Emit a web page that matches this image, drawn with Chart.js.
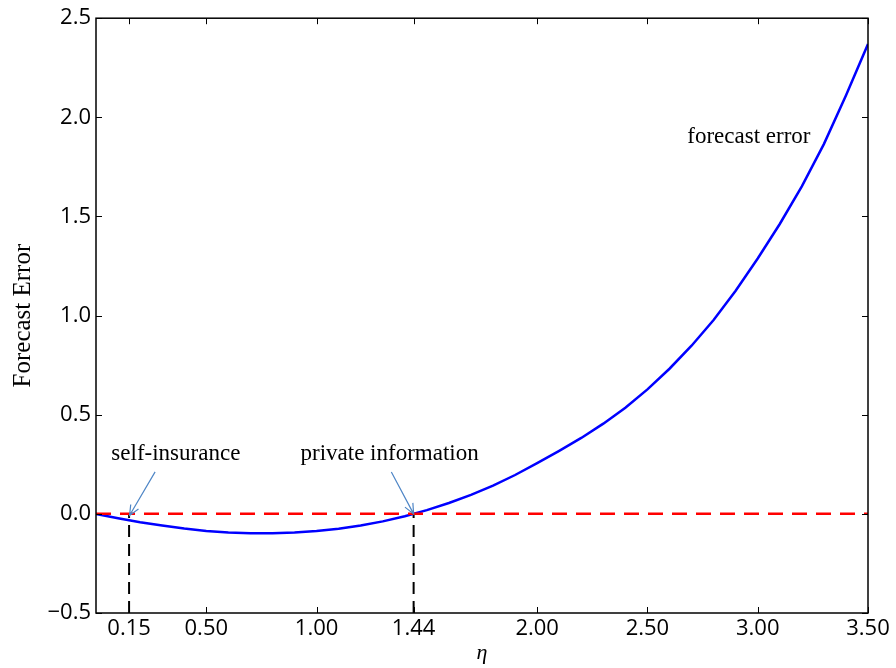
<!DOCTYPE html>
<html>
<head>
<meta charset="utf-8">
<script src="https://cdn.jsdelivr.net/npm/chart.js@4/dist/chart.umd.min.js"></script>
<style>
  html, body { margin: 0; padding: 0; background: #fff; }
  #wrap { width: 896px; height: 668px; }
</style>
</head>
<body>
<div id="wrap"><canvas id="c" width="896" height="668"></canvas></div>
<script>
// eta grid and the forecast error along it
const etaValues = [0.0, 0.1, 0.2, 0.3, 0.4, 0.5, 0.6, 0.7, 0.8, 0.9,
                   1.0, 1.1, 1.2, 1.3, 1.4, 1.5, 1.6, 1.7, 1.8, 1.9,
                   2.0, 2.1, 2.2, 2.3, 2.4, 2.5, 2.6, 2.7, 2.8, 2.9,
                   3.0, 3.1, 3.2, 3.3, 3.4, 3.5];
const errorValues = [0.000, -0.022, -0.042, -0.059, -0.074, -0.086, -0.094, -0.098, -0.098, -0.094,
                     -0.087, -0.075, -0.059, -0.038, -0.012, 0.019, 0.055, 0.096, 0.142, 0.196,
                     0.256, 0.318, 0.383, 0.455, 0.535, 0.628, 0.732, 0.848, 0.978, 1.125,
                     1.288, 1.462, 1.652, 1.865, 2.110, 2.370];

// zero reference line
const zeroLineEta = [0.0, 3.5];
const zeroLineValue = [0.0, 0.0];

// thresholds marked with vertical drop lines
const thresholdEta = [0.15, 1.44];

// axis ticks
const xTickValues = [0.15, 0.50, 1.00, 1.44, 2.00, 2.50, 3.00, 3.50];
const yTickValues = [-0.5, 0.0, 0.5, 1.0, 1.5, 2.0, 2.5];

// annotations: label, text anchor (eta, value), arrow start, arrow tip
const annotationLabels = ['self-insurance', 'private information'];
const annotationTextAt = [[0.362, 0.27], [1.331, 0.27]];
const annotationArrowFrom = [[0.268, 0.212], [1.339, 0.211]];
const annotationArrowTo = [[0.152, -0.008], [1.44, 0.0]];
const curveLabel = 'forecast error';
const curveLabelAt = [2.96, 1.87];

const SERIF = '"Liberation Serif", "DejaVu Serif", serif';
const SANS = '"Open Sans", "DejaVu Sans", sans-serif';

const toPoints = (xs, ys) => xs.map((x, i) => ({ x: x, y: ys[i] }));

const datasets = [
  {
    label: 'zero',
    data: toPoints(zeroLineEta, zeroLineValue),
    showLine: true,
    borderColor: '#ff0000',
    borderWidth: 2.5,
    borderDash: [15, 9],
    pointRadius: 0,
    order: 1
  },
  {
    label: 'forecast error',
    data: toPoints(etaValues, errorValues),
    showLine: true,
    borderColor: '#0000ff',
    borderWidth: 2.5,
    pointRadius: 0,
    tension: 0,
    order: 2
  }
];
thresholdEta.forEach(e => {
  datasets.push({
    label: 'threshold ' + e,
    data: [{ x: e, y: -0.5 }, { x: e, y: 0 }],
    showLine: true,
    borderColor: '#000000',
    borderWidth: 2,
    borderDash: [12, 7],
    pointRadius: 0,
    order: 3
  });
});

// frame, inward ticks on all four sides, and the text annotations
const framePlugin = {
  id: 'frame',
  afterDraw(chart) {
    const { ctx, chartArea: a, scales } = chart;
    const xs = scales.x, ys = scales.y;
    ctx.save();
    ctx.strokeStyle = '#000';
    ctx.lineWidth = 1.5;
    ctx.strokeRect(a.left, a.top, a.right - a.left, a.bottom - a.top);
    ctx.lineWidth = 1;
    const L = 6;
    ctx.beginPath();
    xTickValues.forEach(v => {
      const px = Math.round(xs.getPixelForValue(v)) + 0.5;
      ctx.moveTo(px, a.bottom); ctx.lineTo(px, a.bottom - L);
      ctx.moveTo(px, a.top); ctx.lineTo(px, a.top + L);
    });
    yTickValues.forEach(v => {
      const py = Math.round(ys.getPixelForValue(v)) + 0.5;
      ctx.moveTo(a.left, py); ctx.lineTo(a.left + L, py);
      ctx.moveTo(a.right, py); ctx.lineTo(a.right - L, py);
    });
    ctx.stroke();

    // annotation texts and arrows
    ctx.fillStyle = '#000';
    ctx.font = '23px ' + SERIF;
    ctx.textAlign = 'center';
    ctx.textBaseline = 'alphabetic';
    annotationLabels.forEach((t, i) => {
      const tx = xs.getPixelForValue(annotationTextAt[i][0]);
      const ty = ys.getPixelForValue(annotationTextAt[i][1]);
      ctx.fillText(t, tx, ty);
      const x0 = xs.getPixelForValue(annotationArrowFrom[i][0]);
      const y0 = ys.getPixelForValue(annotationArrowFrom[i][1]);
      const x1 = xs.getPixelForValue(annotationArrowTo[i][0]);
      const y1 = ys.getPixelForValue(annotationArrowTo[i][1]);
      ctx.strokeStyle = '#4f86c6';
      ctx.lineWidth = 1.2;
      ctx.beginPath();
      ctx.moveTo(x0, y0); ctx.lineTo(x1, y1);
      const ang = Math.atan2(y1 - y0, x1 - x0);
      const h = 11, spread = 0.42;
      ctx.moveTo(x1 - h * Math.cos(ang - spread), y1 - h * Math.sin(ang - spread));
      ctx.lineTo(x1, y1);
      ctx.lineTo(x1 - h * Math.cos(ang + spread), y1 - h * Math.sin(ang + spread));
      ctx.stroke();
    });
    ctx.fillText(curveLabel, xs.getPixelForValue(curveLabelAt[0]), ys.getPixelForValue(curveLabelAt[1]));
    ctx.restore();
  }
};

new Chart(document.getElementById('c'), {
  type: 'scatter',
  data: { datasets: datasets },
  options: {
    responsive: false,
    animation: false,
    layout: { padding: { top: 17, right: 28, left: 0, bottom: 0 } },
    plugins: { legend: { display: false }, tooltip: { enabled: false } },
    scales: {
      x: {
        type: 'linear',
        min: 0,
        max: 3.5,
        afterBuildTicks: s => { s.ticks = xTickValues.map(v => ({ value: v })); },
        afterFit: s => { s.height = 55; },
        grid: { display: false, drawTicks: false },
        border: { display: false },
        ticks: {
          color: '#000',
          font: { family: SANS, size: 22 },
          padding: 3,
          maxRotation: 0,
          autoSkip: false,
          callback: v => Number(v).toFixed(2)
        },
        title: {
          display: true,
          text: 'η',
          color: '#000',
          font: { family: SERIF, size: 22, style: 'italic' },
          padding: { top: 0, bottom: 2 }
        }
      },
      y: {
        type: 'linear',
        min: -0.5,
        max: 2.5,
        afterBuildTicks: s => { s.ticks = yTickValues.map(v => ({ value: v })); },
        afterFit: s => { s.width = 96; },
        grid: { display: false, drawTicks: false },
        border: { display: false },
        ticks: {
          color: '#000',
          font: { family: SANS, size: 22 },
          padding: 5,
          callback: v => Number(v).toFixed(1).replace('-', '\u2212')
        },
        title: {
          display: true,
          text: 'Forecast Error',
          color: '#000',
          font: { family: SERIF, size: 25 },
          padding: { top: 8, bottom: 0 }
        }
      }
    }
  },
  plugins: [framePlugin]
});
</script>
</body>
</html>
